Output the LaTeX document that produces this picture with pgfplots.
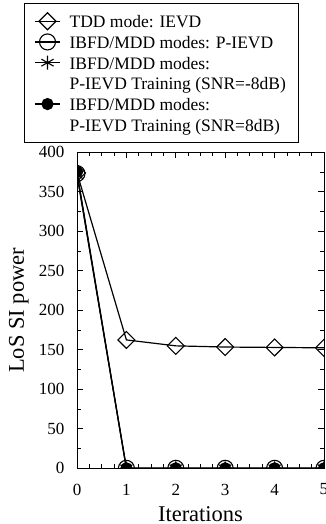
\documentclass[border=0pt]{standalone}
\usepackage{fontspec}
\setmainfont{Liberation Serif}
\usepackage{pgfplots}
\pgfplotsset{compat=1.18}
\begin{document}
\begin{tikzpicture}[x=1pt,y=1pt]
\path (0,0) rectangle (325,524);
\begin{pgfinterruptboundingbox}
\clip (0,0) rectangle (325,524);
\begin{axis}[
  at={(77pt,55.7pt)}, anchor=south west,
  scale only axis, width=247pt, height=316pt,
  xmin=0, xmax=5, ymin=0, ymax=400,
  xtick={0,1,2,3,4,5}, ytick={0,50,...,400},
  minor x tick num=3, minor y tick num=1,
  major tick length=6pt, minor tick length=4pt,
  tick style={line width=0.8pt, black},
  axis line style={line width=0.9pt},
  /pgf/number format/assume math mode=true,
  ticklabel style={font=\fontsize{17}{17}\selectfont},
  xticklabel style={yshift=-12pt},
  yticklabel style={xshift=-9pt},
  xlabel={Iterations}, ylabel={LoS SI power},
  label style={font=\fontsize{22.5}{24}\selectfont},
  xlabel style={at={(axis description cs:0.5,-0.168)}, anchor=base},
  ylabel style={at={(axis description cs:-0.2146,0.5)}, anchor=base},
  clip marker paths=true,
  every axis plot/.append style={line width=1.2pt, black},
  legend image code/.code={\draw[mark repeat=2,mark phase=2] plot coordinates {(0pt,0pt) (12.5pt,0pt) (25pt,0pt)};},
  legend style={at={(axis description cs:0,1)}, xshift=-53pt, yshift=9pt, anchor=south west, draw=black, line width=0.8pt, fill=white,
    font=\fontsize{17.5}{21}\selectfont, inner xsep=10pt, inner ysep=7.8pt, row sep=0pt, column sep=7pt,
    nodes={inner xsep=2pt, inner ysep=0pt, text height=16.9pt, text depth=3.8pt}},
  legend cell align=left,
]
\addplot[mark=square, mark size=6pt, mark options={rotate=45, fill=white, line width=1.1pt}]
  coordinates {(0,374) (1,162.5) (2,155) (3,153.5) (4,153) (5,152.5)};
\addlegendentry{TDD mode: IEVD}
\addplot[mark=o, mark size=8pt, mark options={fill=white, line width=1.1pt}]
  coordinates {(0,373) (1,0) (2,0) (3,0) (4,0) (5,0)};
\addlegendentry{IBFD/MDD modes: P-IEVD}
\addplot[mark=asterisk, mark size=7pt, mark options={line width=1.1pt}]
  coordinates {(0,371) (1,0) (2,0) (3,0) (4,0) (5,0)};
\addlegendentry{IBFD/MDD modes:}
\addlegendimage{legend image code/.code={}}
\addlegendentry{P-IEVD Training (SNR=-8dB)}
\addplot[mark=*, mark size=5.5pt]
  coordinates {(0,375) (1,0) (2,0) (3,0) (4,0) (5,0)};
\addlegendentry{IBFD/MDD modes:}
\addlegendimage{legend image code/.code={}}
\addlegendentry{P-IEVD Training (SNR=8dB)}
\end{axis}
\end{pgfinterruptboundingbox}
\end{tikzpicture}
\end{document}
